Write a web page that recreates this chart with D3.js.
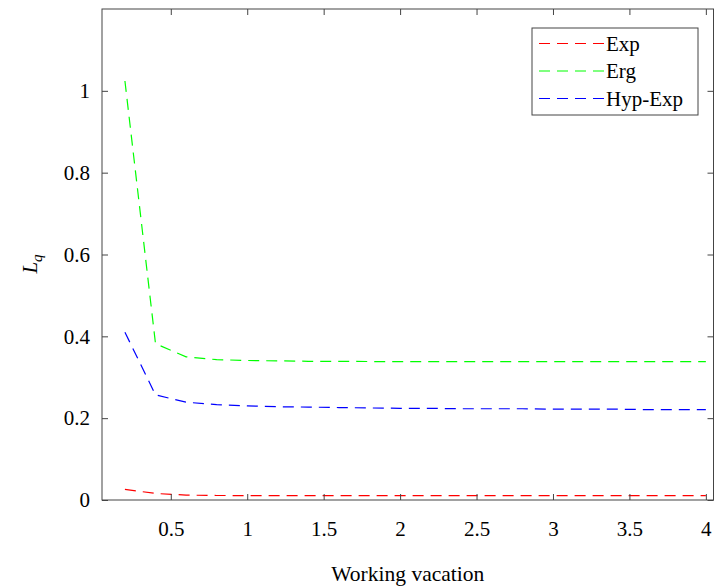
<!DOCTYPE html>
<html>
<head>
<meta charset="utf-8">
<script src="https://cdn.jsdelivr.net/npm/d3@7"></script>
<style>
  body { margin: 0; background: #fff; }
  svg, svg text { font-family: "Liberation Serif", "Times New Roman", serif; }
</style>
</head>
<body>
<div id="chart"></div>
<script>
// x values: working vacation, 0.2 .. 4 step 0.2
const vacation = [0.2, 0.4, 0.6, 0.8, 1.0, 1.2, 1.4, 1.6, 1.8, 2.0,
                  2.2, 2.4, 2.6, 2.8, 3.0, 3.2, 3.4, 3.6, 3.8, 4.0];
const lqExp    = [0.026, 0.016, 0.012, 0.011, 0.0108, 0.0106, 0.0105, 0.0105, 0.0105, 0.0105,
                  0.0105, 0.0105, 0.0105, 0.0105, 0.0105, 0.0105, 0.0105, 0.0105, 0.0105, 0.0105];
const lqErg    = [1.024, 0.382, 0.350, 0.343, 0.341, 0.340, 0.339, 0.339, 0.3385, 0.338,
                  0.338, 0.338, 0.338, 0.338, 0.338, 0.338, 0.338, 0.338, 0.338, 0.338];
const lqHyp    = [0.410, 0.257, 0.239, 0.233, 0.230, 0.228, 0.227, 0.226, 0.225, 0.224,
                  0.224, 0.223, 0.223, 0.223, 0.222, 0.222, 0.222, 0.221, 0.221, 0.221];
const xTicks = [0.5, 1, 1.5, 2, 2.5, 3, 3.5, 4];
const yTicks = [0, 0.2, 0.4, 0.6, 0.8, 1];

const series = [
  { name: "Exp", values: lqExp, color: "#ff0000" },
  { name: "Erg", values: lqErg, color: "#00ff00" },
  { name: "Hyp-Exp", values: lqHyp, color: "#0000ff" }
];

const W = 715, H = 588;
const margin = { top: 9, right: 1.5, bottom: 88, left: 102 };
const width = W - margin.left - margin.right;
const height = H - margin.top - margin.bottom;
const axisColor = "#444";
const fontSize = 21;

const svg = d3.select("#chart").append("svg")
  .attr("width", W)
  .attr("height", H);

const g = svg.append("g")
  .attr("transform", `translate(${margin.left},${margin.top})`);

const x = d3.scaleLinear().domain([0.05, 4.05]).range([0, width]);
const y = d3.scaleLinear().domain([0, 1.2]).range([height, 0]);

// lines
const line = d3.line()
  .x((d, i) => x(vacation[i]))
  .y(d => y(d));

g.selectAll(".series")
  .data(series)
  .enter().append("path")
  .attr("class", "series")
  .attr("d", d => line(d.values))
  .attr("fill", "none")
  .attr("stroke", d => d.color)
  .attr("stroke-width", 1.2)
  .attr("stroke-dasharray", "11 7");

// axes: ticks pointing inward, box all round
const xAxis = d3.axisBottom(x).tickValues(xTicks).tickSize(-6).tickPadding(21)
  .tickFormat(d3.format("~g"));
const yAxis = d3.axisLeft(y).tickValues(yTicks).tickSize(-6).tickPadding(12)
  .tickFormat(d3.format("~g"));

g.append("g")
  .attr("transform", `translate(0,${height})`)
  .call(xAxis);
g.append("g").call(yAxis);

g.append("g").call(d3.axisTop(x).tickValues(xTicks).tickSize(-6).tickFormat(""));
g.append("g").attr("transform", `translate(${width},0)`)
  .call(d3.axisRight(y).tickValues(yTicks).tickSize(-6).tickFormat(""));

g.selectAll(".domain").remove();
g.selectAll("g").attr("font-family", null).attr("font-size", null);
g.selectAll(".tick line").attr("stroke", axisColor);
g.selectAll(".tick text")
  .attr("fill", "#000")
  .style("font-size", fontSize + "px");

g.append("rect")
  .attr("x", 0).attr("y", 0)
  .attr("width", width).attr("height", height)
  .attr("fill", "none")
  .attr("stroke", axisColor)
  .attr("stroke-width", 1);

// axis labels
svg.append("text")
  .attr("x", margin.left + x(2.05))
  .attr("y", 581)
  .attr("text-anchor", "middle")
  .style("font-size", "21.5px")
  .text("Working vacation");

const yl = svg.append("text")
  .attr("transform", `translate(37,264) rotate(-90)`)
  .attr("text-anchor", "middle")
  .style("font-size", "21px")
  .style("font-style", "italic");
yl.append("tspan").text("L");
yl.append("tspan").attr("dy", 5).style("font-size", "15px").text("q");

// legend
const legend = svg.append("g").attr("transform", "translate(532,28)");
legend.append("rect")
  .attr("width", 166).attr("height", 87)
  .attr("fill", "#fff")
  .attr("stroke", axisColor);

const items = legend.selectAll(".legend-item")
  .data(series)
  .enter().append("g")
  .attr("class", "legend-item")
  .attr("transform", (d, i) => `translate(0,${15.5 + i * 27.5})`);

items.append("line")
  .attr("x1", 7).attr("x2", 72)
  .attr("stroke", d => d.color)
  .attr("stroke-width", 1.2)
  .attr("stroke-dasharray", "11 7");

items.append("text")
  .attr("x", 74)
  .attr("dy", "0.35em")
  .style("font-size", fontSize + "px")
  .text(d => d.name);
</script>
</body>
</html>
